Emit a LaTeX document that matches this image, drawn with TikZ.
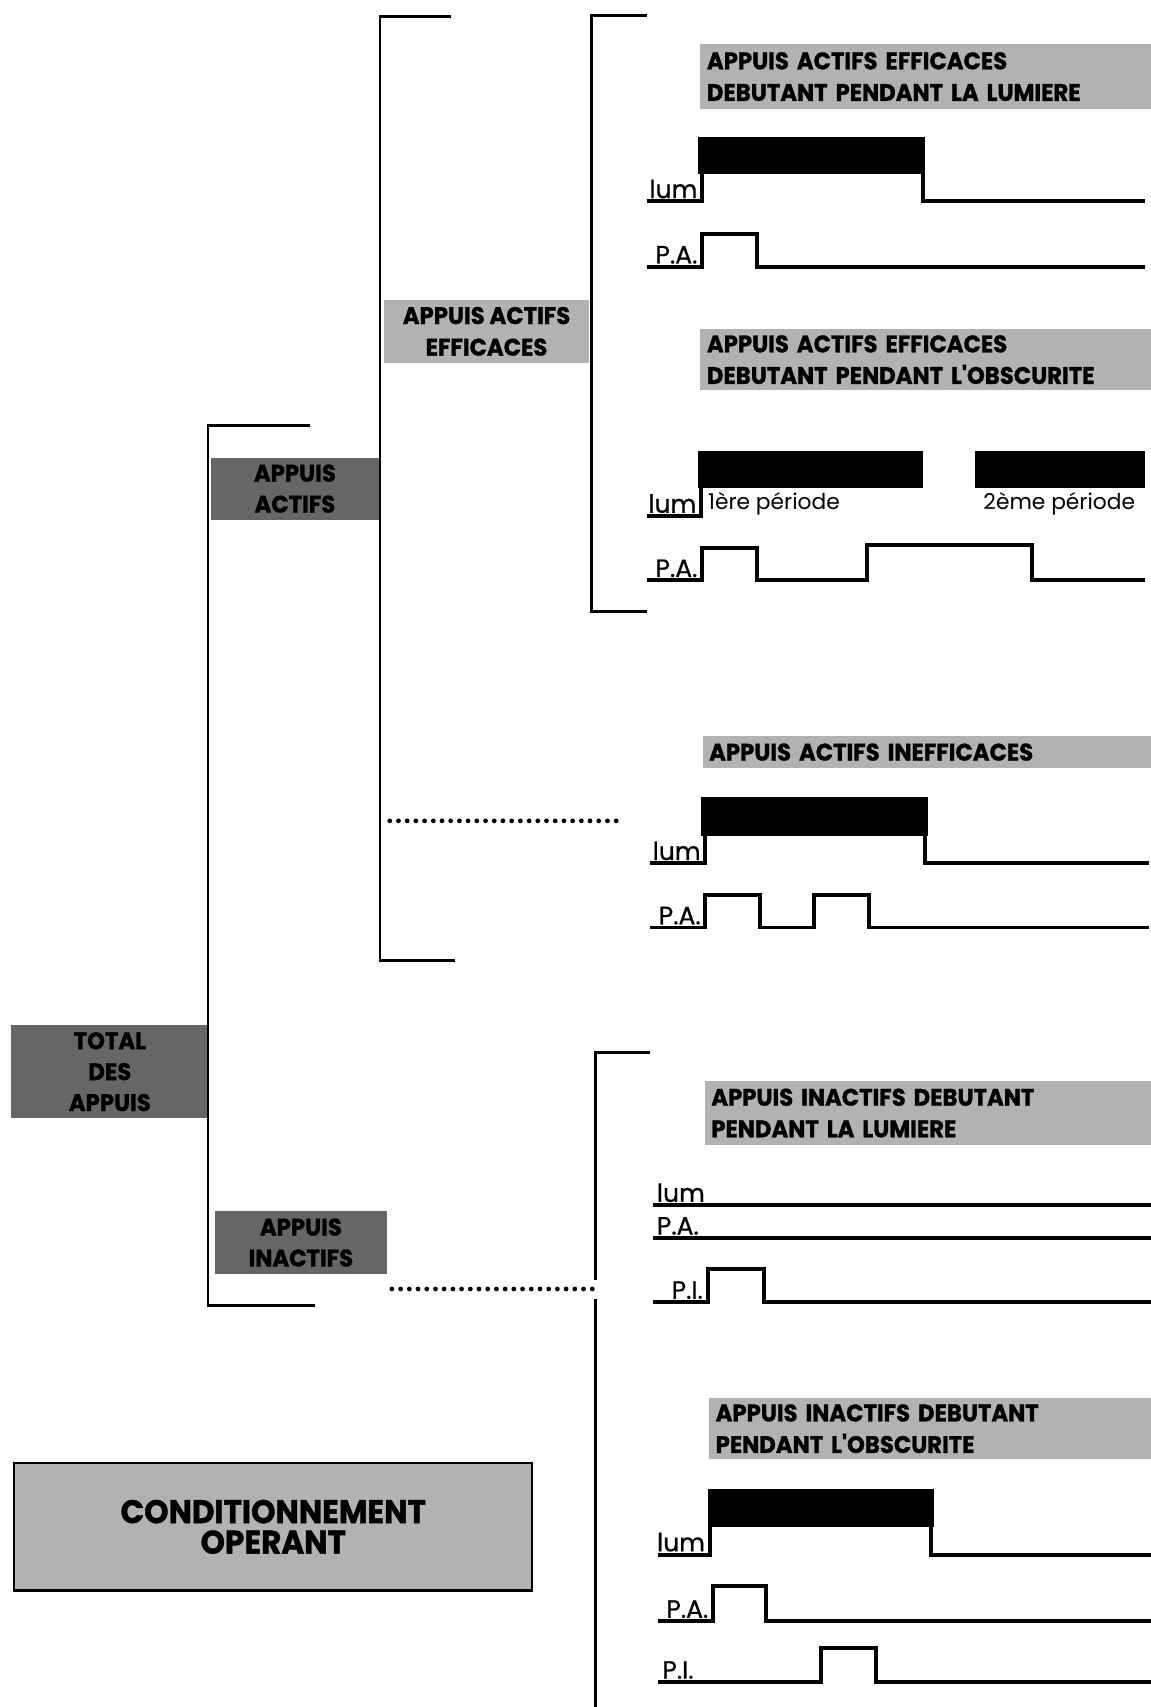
\documentclass[tikz,border=0pt]{standalone}
\usepackage{fontspec}
\setmainfont{Poppins}
\newfontfamily\hdrfont[FakeStretch=0.95, BoldFeatures={FakeBold=1.2}]{Poppins}
\newfontfamily\lblfont[FakeBold=0.7]{Poppins}
\begin{document}
\begin{tikzpicture}[x=0.5pt, y=-0.5pt,
  brk/.style={line width=1.3pt},
  sig/.style={line width=1.8pt},
  dots/.style={line width=2.2pt, line cap=round, dash pattern=on 0pt off 4pt},
  bar/.style={fill=black},
  light/.style={fill=black!30, inner sep=0pt, font=\hdrfont\bfseries\fontsize{11}{14.5}\selectfont},
  dark/.style={fill=black!60, inner sep=0pt, align=center, anchor=north west, font=\hdrfont\bfseries\fontsize{11}{14.2}\selectfont},
  hdr/.style={light, anchor=north west, align=left, inner xsep=3pt},
  lbl/.style={font=\lblfont\fontsize{11.5}{12}\selectfont, anchor=base east, inner sep=0pt},
  per/.style={font=\fontsize{10}{12}\selectfont, anchor=base west, inner sep=0pt}]

\useasboundingbox (0,0) rectangle (1057,1568);

% tree of boxes
\node[dark, minimum width=90.5pt, minimum height=43pt] (total) at (10,941) {TOTAL\\DES\\APPUIS};
\node[dark, minimum width=77.5pt, minimum height=28.5pt] (actifs) at (193,420) {APPUIS\\ACTIFS};
\node[dark, minimum width=79pt, minimum height=29pt] (inactifs) at (197,1112) {APPUIS\\INACTIFS};
\node[light, align=center, anchor=north west, minimum width=94.5pt, minimum height=29pt] (efficaces) at (352,275) {APPUIS ACTIFS\\EFFICACES};
\node[light, draw, line width=1pt, align=center, anchor=north west, minimum width=238pt, minimum height=58.5pt,
  font=\hdrfont\bfseries\fontsize{15}{14}\selectfont] (cond) at (12,1343) {CONDITIONNEMENT\\OPERANT};

% brackets
\draw[brk] (285,391) -- (191,391) -- (191,1199) -- (289,1199);
\draw[brk] (414,15) -- (349,15) -- (349,882) -- (418,882);
\draw[brk] (594,14) -- (543,14) -- (543,562) -- (594,562);
\draw[brk] (597,967) -- (547,967) -- (547,1176);
\draw[brk] (547,1193) -- (547,1568);
\draw[dots] (358,754) -- (570,754);
\draw[dots] (360,1184) -- (548,1184);

% headers
\node[hdr, text width=201pt, minimum height=30pt] (h1) at (643,40) {APPUIS ACTIFS EFFICACES\\DEBUTANT PENDANT LA LUMIERE};
\node[hdr, text width=201pt, minimum height=28pt] (h2) at (643,302) {APPUIS ACTIFS EFFICACES\\DEBUTANT PENDANT L'OBSCURITE};
\node[hdr, text width=200pt, minimum height=14.5pt] (h3) at (645,676) {APPUIS ACTIFS INEFFICACES};
\node[hdr, text width=199pt, minimum height=29pt] (h4) at (647,993) {APPUIS INACTIFS DEBUTANT\\PENDANT LA LUMIERE};
\node[hdr, text width=197pt, minimum height=28pt] (h5) at (651,1284) {APPUIS INACTIFS DEBUTANT\\PENDANT L'OBSCURITE};

% efficaces, lumiere
\fill[bar] (641,126) rectangle (850,160);
\draw[sig] (594,185) -- (645,185) -- (645,160) (848,160) -- (848,185) -- (1052,185);
\node[lbl] (lum1) at (641,182) {lum};
\draw[sig] (594,245) -- (645,245) -- (645,215) -- (695,215) -- (695,245) -- (1052,245);
\node[lbl] (pa1) at (641,242) {P.A.};

% efficaces, obscurite
\fill[bar] (641,414) rectangle (848,448);
\fill[bar] (896,414) rectangle (1052,448);
\draw[sig] (594,474) -- (644,474) -- (644,448);
\node[lbl] (lum2) at (640,471) {lum};
\node[per] (per1) at (650,468) {1ère période};
\node[per] (per2) at (903,468) {2ème période};
\draw[sig] (594,533) -- (645,533) -- (645,503) -- (695,503) -- (695,533) -- (796,533) -- (796,501) -- (948,501) -- (948,533) -- (1052,533);
\node[lbl] (pa2) at (641,530) {P.A.};

% inefficaces
\fill[bar] (644,732) rectangle (852,768);
\draw[sig] (597,793) -- (648,793) -- (648,768) (850,768) -- (850,793) -- (1055,793);
\node[lbl] (lum3) at (644,790) {lum};
\draw[sig] (597,852) -- (648,852) -- (648,822) -- (698,822) -- (698,852) -- (748,852) -- (748,822) -- (798,822) -- (798,852) -- (1055,852);
\node[lbl] (pa3) at (644,849) {P.A.};

% inactifs, lumiere
\draw[sig] (600,1107) -- (1057,1107);
\node[lbl, anchor=base west] (lum4) at (603,1104) {lum};
\draw[sig] (600,1137) -- (1057,1137);
\node[lbl, anchor=base west] (pa4) at (603,1134) {P.A.};
\draw[sig] (600,1196) -- (650,1196) -- (650,1166) -- (702,1166) -- (702,1196) -- (1057,1196);
\node[lbl] (pi4) at (646,1193) {P.I.};

% inactifs, obscurite
\fill[bar] (650,1368) rectangle (858,1403);
\draw[sig] (604,1428) -- (652,1428) -- (652,1403) (855,1403) -- (855,1428) -- (1057,1428);
\node[lbl] (lum5) at (648,1425) {lum};
\draw[sig] (604,1489) -- (655,1489) -- (655,1457) -- (704,1457) -- (704,1489) -- (1057,1489);
\node[lbl] (pa5) at (651,1486) {P.A.};
\draw[sig] (604,1545) -- (754,1545) -- (754,1514) -- (805,1514) -- (805,1545) -- (1057,1545);
\node[lbl, anchor=base west] (pi5) at (608,1542) {P.I.};
\end{tikzpicture}
\end{document}
